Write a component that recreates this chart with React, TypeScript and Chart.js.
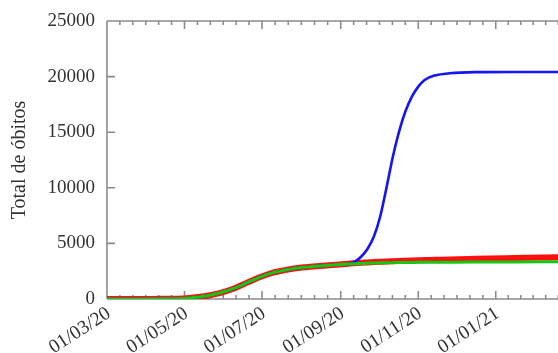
import React, { useEffect, useRef } from "react";
import { Chart, registerables } from "chart.js";

Chart.register(...registerables);

// days since 01/03/2020
const dayOffsets = [0, 15, 30, 45, 60, 70, 80, 90, 100, 110, 120, 130, 140, 150, 160, 170, 180, 190, 195, 200, 205, 210, 215, 220, 225, 230, 235, 240, 245, 250, 258, 270, 290, 320, 355];

const serieVerde = [0, 0, 5, 15, 50, 150, 320, 580, 950, 1450, 1950, 2350, 2600, 2780, 2900, 3000, 3080, 3150, 3180, 3200, 3220, 3240, 3250, 3260, 3270, 3280, 3285, 3290, 3295, 3300, 3305, 3315, 3325, 3335, 3350];

const serieVermelha = [0, 0, 5, 15, 50, 150, 320, 580, 950, 1450, 1950, 2350, 2600, 2780, 2900, 3000, 3080, 3180, 3220, 3260, 3290, 3320, 3350, 3380, 3400, 3420, 3440, 3460, 3480, 3500, 3520, 3560, 3610, 3680, 3760];

const serieAzul = [0, 0, 5, 15, 50, 150, 320, 580, 950, 1450, 1950, 2350, 2600, 2780, 2900, 3000, 3080, 3150, 3350, 3800, 4500, 5600, 7400, 10000, 12800, 15100, 16900, 18200, 19100, 19700, 20100, 20300, 20400, 20420, 20420];

const tickDays = [0, 61, 122, 184, 245, 306, 365];
const tickLabels = ["01/03/20", "01/05/20", "01/07/20", "01/09/20", "01/11/20", "01/01/21", "01/03/21"];
const yTickValues = [0, 5000, 10000, 15000, 20000, 25000];
const yTitle = "Total de óbitos";
const xMax = 355;

const framePlugin = {
  id: "frame",
  beforeDatasetsDraw(chart: any) {
    const { ctx, chartArea: a, scales } = chart;
    const xs = scales.x;
    const ys = scales.y;
    ctx.save();
    ctx.strokeStyle = "#8c8c8c";
    ctx.lineWidth = 1.6;
    ctx.beginPath();
    ctx.moveTo(a.left, a.top);
    ctx.lineTo(a.right, a.top);
    ctx.moveTo(a.left, a.top);
    ctx.lineTo(a.left, a.bottom);
    ctx.moveTo(a.left, a.bottom);
    ctx.lineTo(a.right, a.bottom);
    const drawX = (v: number, len: number) => {
      const px = xs.getPixelForValue(v);
      if (px < a.left - 0.5 || px > a.right + 0.5) return;
      ctx.moveTo(px, a.bottom);
      ctx.lineTo(px, a.bottom - len);
      ctx.moveTo(px, a.top);
      ctx.lineTo(px, a.top + len);
    };
    for (let i = 0; i < tickDays.length; i++) {
      drawX(tickDays[i], 8);
      if (i < tickDays.length - 1) {
        const span = tickDays[i + 1] - tickDays[i];
        for (let k = 1; k < 6; k++) drawX(tickDays[i] + (span * k) / 6, 4);
      }
    }
    for (const v of yTickValues) {
      const py = ys.getPixelForValue(v);
      ctx.moveTo(a.left, py);
      ctx.lineTo(a.left + 8, py);
    }
    ctx.stroke();
    ctx.restore();
  },
};

export default function App() {
  const ref = useRef<HTMLCanvasElement | null>(null);
  useEffect(() => {
    document.body.style.margin = "0";
    const mk = (vals: number[]) => dayOffsets.map((d, i) => ({ x: d, y: vals[i] }));
    const chart = new Chart(ref.current as HTMLCanvasElement, {
      type: "line",
      data: {
        datasets: [
          { label: "verde", data: mk(serieVerde), borderColor: "#12c812", borderWidth: 3, pointRadius: 0, cubicInterpolationMode: "monotone", fill: false },
          { label: "azul", data: mk(serieAzul), borderColor: "#1414f5", borderWidth: 2.6, pointRadius: 0, cubicInterpolationMode: "monotone", fill: false },
          { label: "vermelha", data: mk(serieVermelha), borderColor: "#ff1010", borderWidth: 6, pointRadius: 0, cubicInterpolationMode: "monotone", fill: false },
        ],
      },
      options: {
        animation: false,
        responsive: false,
        devicePixelRatio: 1,
        layout: { padding: { top: 21, right: 0, left: 0, bottom: 0 } },
        plugins: { legend: { display: false }, tooltip: { enabled: false } },
        scales: {
          x: {
            type: "linear",
            min: 0,
            max: xMax,
            grid: { display: false, drawTicks: false },
            border: { display: false },
            afterBuildTicks: (s: any) => {
              s.ticks = tickDays.filter((d) => d <= xMax).map((d) => ({ value: d }));
            },
            afterFit: (s: any) => {
              s.height = 54;
            },
            ticks: {
              autoSkip: false,
              minRotation: 33,
              maxRotation: 33,
              padding: 3,
              labelOffset: 2,
              color: "#333",
              font: { family: "'Liberation Serif', serif", size: 19.5 },
              callback: (v: any) => {
                const i = tickDays.indexOf(Number(v));
                return i >= 0 ? tickLabels[i] : "";
              },
            },
          },
          y: {
            min: 0,
            max: 25000,
            grid: { display: false },
            border: { display: false },
            afterBuildTicks: (s: any) => {
              s.ticks = yTickValues.map((v) => ({ value: v }));
            },
            afterFit: (s: any) => {
              s.width = 107;
            },
            ticks: {
              padding: 4,
              color: "#333",
              font: { family: "'Liberation Serif', serif", size: 19 },
              callback: (v: any) => String(v),
            },
            title: {
              display: true,
              text: yTitle,
              color: "#333",
              padding: { top: 8, bottom: 0 },
              font: { family: "'Liberation Serif', serif", size: 20 },
            },
          },
        },
      },
      plugins: [framePlugin],
    });
    return () => chart.destroy();
  }, []);
  return (
    <div style={{ position: "fixed", left: 0, top: 0, width: 558, height: 353, background: "#fff" }}>
      <canvas ref={ref} width={558} height={353} style={{ width: 558, height: 353, display: "block" }} />
    </div>
  );
}
